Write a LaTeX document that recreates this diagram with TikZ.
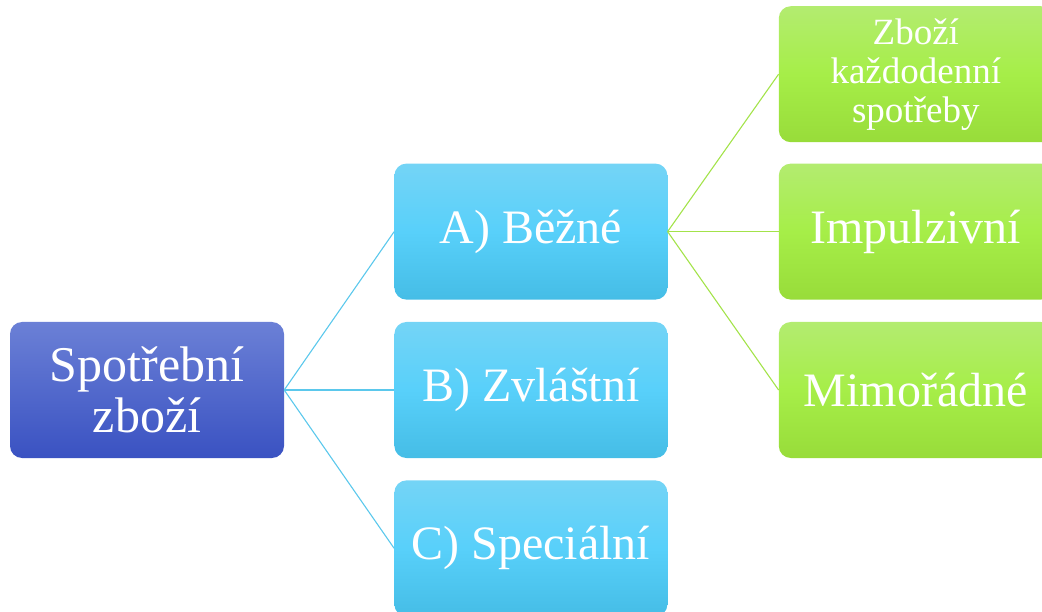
\documentclass[tikz,border=0pt]{standalone}
\usepackage{fontspec}
\setmainfont{Liberation Serif}
\usetikzlibrary{positioning}

\definecolor{rootTop}{HTML}{6B80D6}
\definecolor{rootBot}{HTML}{3A52C2}
\definecolor{cyanTop}{HTML}{74D4F6}
\definecolor{cyanMid}{HTML}{58D0FA}
\definecolor{cyanBot}{HTML}{45BDE6}
\definecolor{greenTop}{HTML}{B3EC70}
\definecolor{greenMid}{HTML}{A6EE48}
\definecolor{greenBot}{HTML}{98DC3A}
\definecolor{cyanLine}{HTML}{5BC8EC}
\definecolor{greenLine}{HTML}{A3E34A}

\begin{document}
\begin{tikzpicture}[
  x=1pt, y=-1pt,
  node distance = 22pt and 110pt,
  rootNode/.style  ={rectangle, rounded corners=12pt, minimum width=274pt, minimum height=136pt, top color=rootTop, bottom color=rootBot, text=white, align=center, font=\fontsize{50}{51}\selectfont},
  groupNode/.style ={rectangle, rounded corners=12pt, minimum width=273pt, minimum height=136pt, top color=cyanTop, bottom color=cyanBot, middle color=cyanMid, text=white, align=center, font=\fontsize{48}{52}\selectfont},
  itemNode/.style  ={rectangle, rounded corners=12pt, minimum width=274pt, minimum height=136pt, top color=greenTop, bottom color=greenBot, middle color=greenMid, text=white, align=center, font=\fontsize{48}{52}\selectfont},
  blueLine/.style  ={draw=cyanLine, line width=1.1pt},
  greenLine/.style ={draw=greenLine, line width=1.1pt}
]
\useasboundingbox (0,0) rectangle (1042,612);
\begin{scope}
\clip (0,0) rectangle (1042,612);

% ---- root ----
\node[rootNode] (ROOT) at (147,390) {Spotřební\\zboží};

% ---- groups ----
\node[groupNode, right=110pt of ROOT] (GRB) {B) Zvláštní};
\node[groupNode, above=of GRB] (GRA) {A) Běžné};
\node[groupNode, below=of GRB] (GRC) {C) Speciální};

\draw[blueLine] (ROOT.east) -- (GRA.west);
\draw[blueLine] (ROOT.east) -- (GRB.west);
\draw[blueLine] (ROOT.east) -- (GRC.west);

% ---- items of A ----
\node[itemNode, right=111pt of GRA] (IMP) {Impulzivní};
\node[itemNode, above=21pt of IMP, font=\fontsize{37}{39}\selectfont] (DAY) {Zboží\\každodenní\\spotřeby};
\node[itemNode, below=of IMP] (EXT) {Mimořádné};

\draw[greenLine] (GRA.east) -- (DAY.west);
\draw[greenLine] (GRA.east) -- (IMP.west);
\draw[greenLine] (GRA.east) -- (EXT.west);

\end{scope}
\end{tikzpicture}
\end{document}
